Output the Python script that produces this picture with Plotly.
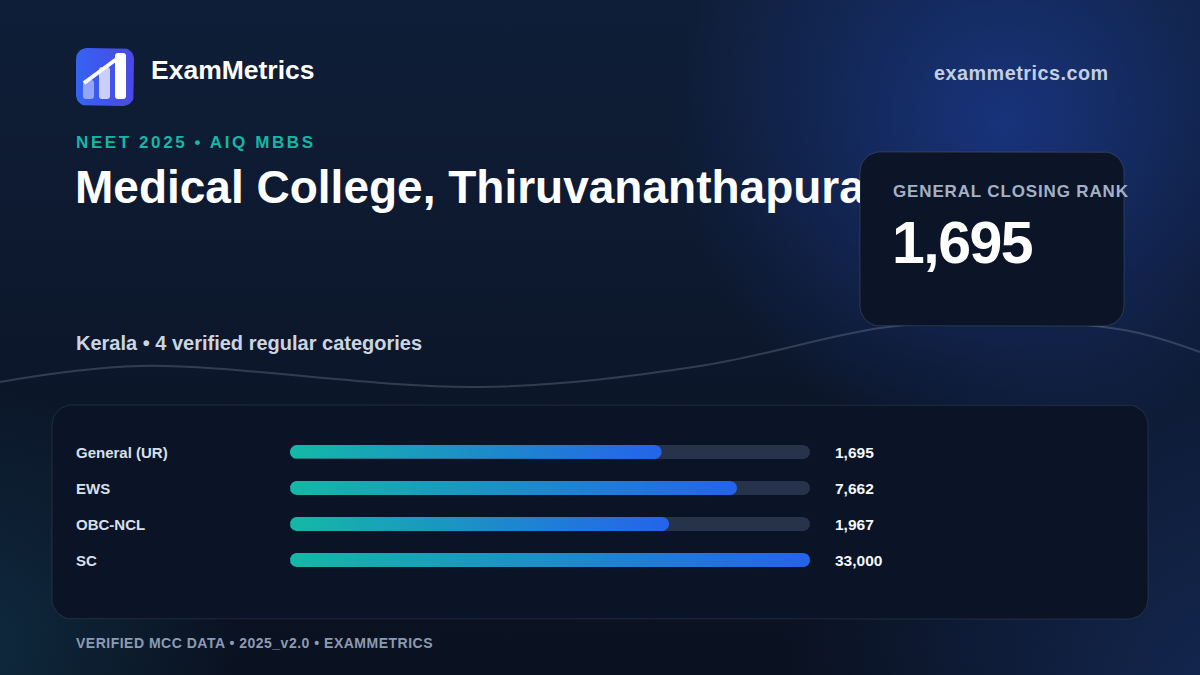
import numpy as np
import plotly.graph_objects as go

# ---------------- data ----------------
categories = ["General (UR)", "EWS", "OBC-NCL", "SC"]
closing_ranks = [1695, 7662, 1967, 33000]
value_labels = ["1,695", "7,662", "1,967", "33,000"]

brand = "ExamMetrics"
site = "exammetrics.com"
kicker = "NEET 2025 • AIQ MBBS"
college = "Medical College, Thiruvananthapuram"
subtitle = "Kerala • 4 verified regular categories"
stat_label = "GENERAL CLOSING RANK"
stat_value = "1,695"
footer = "VERIFIED MCC DATA • 2025_v2.0 • EXAMMETRICS"

W, H = 1200, 675
FONT = "Liberation Sans, Arial, Helvetica, sans-serif"


def rrect(x0, y0, x1, y1, r, n=10):
    xs, ys = [], []
    corners = [(x0 + r, y0 + r, 180, 270), (x1 - r, y0 + r, 270, 360),
               (x1 - r, y1 - r, 0, 90), (x0 + r, y1 - r, 90, 180)]
    for cx, cy, a0, a1 in corners:
        t = np.radians(np.linspace(a0, a1, n))
        xs += list(cx + r * np.cos(t))
        ys += list(cy + r * np.sin(t))
    xs.append(xs[0]); ys.append(ys[0])
    return xs, ys


def circle(cx, cy, r, n=90):
    t = np.linspace(0, 2 * np.pi, n)
    return list(cx + r * np.cos(t)), list(cy + r * np.sin(t))


def rpath(x0, y0, x1, y1, r):
    return (f"M{x0+r},{y0} L{x1-r},{y0} Q{x1},{y0} {x1},{y0+r} L{x1},{y1-r} "
            f"Q{x1},{y1} {x1-r},{y1} L{x0+r},{y1} Q{x0},{y1} {x0},{y1-r} "
            f"L{x0},{y0+r} Q{x0},{y0} {x0+r},{y0} Z")


fig = go.Figure()

# ---------------- background (pixel axes x/y) ----------------
fig.add_trace(go.Scatter(x=[0, W, W, 0, 0], y=[0, 0, H, H, 0], mode="lines",
                         fill="toself", line=dict(width=0),
                         fillgradient=dict(type="vertical",
                                           colorscale=[[0, "#0a1120"], [1, "#0f1e38"]]),
                         hoverinfo="skip", showlegend=False))

glows = [
    (1005, 125, 330, "rgba(32,70,180,0.56)"),
    (1240, 720, 460, "rgba(26,56,118,0.6)"),
    (-20, 650, 260, "rgba(22,88,118,0.34)"),
]
for cx, cy, r, col in glows:
    gx, gy = circle(cx, cy, r)
    fig.add_trace(go.Scatter(x=gx, y=gy, mode="lines", fill="toself", line=dict(width=0),
                             fillgradient=dict(type="radial",
                                               colorscale=[[0, col], [1, col.rsplit(",", 1)[0] + ",0)"]]),
                             hoverinfo="skip", showlegend=False))

# decorative wave
fig.add_trace(go.Scatter(x=[0, 140, 480, 700, 880, 980, 1124, 1200],
                         y=[382, 366, 387, 366, 328, 321, 330, 352],
                         mode="lines", line=dict(color="rgba(148,163,184,0.28)", width=2, shape="spline"),
                         hoverinfo="skip", showlegend=False))

# title as text trace (so the stat card can overlap it)
fig.add_trace(go.Scatter(x=[75], y=[191], mode="text", text=[college], textposition="middle right",
                         textfont=dict(family=FONT, size=46, color="#ffffff", weight="bold"),
                         hoverinfo="skip", showlegend=False))

# stat card
cx_, cy_ = rrect(860, 152, 1124, 326, 20)
fig.add_trace(go.Scatter(x=cx_, y=cy_, mode="lines", fill="toself", fillcolor="#0c1527",
                         line=dict(color="rgba(148,163,184,0.22)", width=1),
                         hoverinfo="skip", showlegend=False))

# bars card
bx_, by_ = rrect(52, 405, 1148, 619, 20)
fig.add_trace(go.Scatter(x=bx_, y=by_, mode="lines", fill="toself", fillcolor="#0b1426",
                         line=dict(color="rgba(148,163,184,0.16)", width=1),
                         hoverinfo="skip", showlegend=False))

# logo square
lx, ly = rrect(76, 48, 134, 106, 11)
fig.add_trace(go.Scatter(x=lx, y=ly, mode="lines", fill="toself", line=dict(width=0),
                         fillgradient=dict(type="horizontal",
                                           colorscale=[[0, "#3563f1"], [1, "#4b48e6"]]),
                         hoverinfo="skip", showlegend=False))

# ---------------- bars (log-scaled axes x2/y2) ----------------
vmax = max(closing_ranks)
L = np.log10(vmax)
track_px = 520.0
row_px = 36.0
r_px = 7.0
ru = r_px * L / track_px
ry = r_px / row_px


def pill(u_end, yc, n=24):
    t_r = np.radians(np.linspace(-90, 90, n))
    t_l = np.radians(np.linspace(90, 270, n))
    us = list(u_end - ru + ru * np.cos(t_r)) + list(ru + ru * np.cos(t_l))
    ys = list(yc + ry * np.sin(t_r)) + list(yc + ry * np.sin(t_l))
    us.append(us[0]); ys.append(ys[0])
    return [10 ** u for u in us], ys


for i, v in enumerate(closing_ranks):
    tx, ty = pill(L, i)
    fig.add_trace(go.Scatter(x=tx, y=ty, xaxis="x2", yaxis="y2", mode="lines", fill="toself",
                             fillcolor="#27334a", line=dict(width=0),
                             hoverinfo="skip", showlegend=False))
for i, v in enumerate(closing_ranks):
    px_, py_ = pill(np.log10(v), i)
    fig.add_trace(go.Scatter(x=px_, y=py_, xaxis="x2", yaxis="y2", mode="lines", fill="toself",
                             line=dict(width=0),
                             fillgradient=dict(type="horizontal",
                                               colorscale=[[0, "#14b8a6"], [1, "#2563eb"]]),
                             hoverinfo="skip", showlegend=False))

# ---------------- text ----------------
ann = []


def txt(x, y, s, size, color, xanchor="left", yref="y", weight="bold", spacing=None):
    if spacing is not None:
        s = f'<span style="letter-spacing:{spacing}px">{s}</span>'
    ann.append(dict(x=x - 2 if xanchor == "left" else x + 2, y=y, xref="x", yref=yref, text=s,
                    showarrow=False, xanchor=xanchor, yanchor="middle",
                    font=dict(family=FONT, size=size, color=color, weight=weight)))


txt(151, 70, brand, 26.5, "#ffffff")
txt(1109, 73, site, 19.8, "#c3cee0", xanchor="right", spacing=0.5)
txt(76, 142, kicker, 17, "#14b8a6", spacing=2.6)
txt(76, 343, subtitle, 20, "#cbd5e1")
txt(893, 191, stat_label, 17, "#a3b1c6", spacing=0.85)
txt(892, 243, stat_value, 59, "#ffffff", spacing=-1.5)
txt(76, 643, footer, 14, "#8c9bb3", spacing=0.5)

for i, (c, lab) in enumerate(zip(categories, value_labels)):
    txt(76, i, c, 15, "#d9e0ea", yref="y2")
    txt(835, i, lab, 15.5, "#f5f7fb", yref="y2")

# logo glyph
shapes = [
    dict(type="path", path=rpath(83, 80, 94, 99, 3), xref="x", yref="y",
         fillcolor="rgba(255,255,255,0.45)", line=dict(width=0), layer="above"),
    dict(type="path", path=rpath(99, 67, 110, 99, 3), xref="x", yref="y",
         fillcolor="rgba(255,255,255,0.72)", line=dict(width=0), layer="above"),
    dict(type="path", path=rpath(115, 53, 126, 99, 3), xref="x", yref="y",
         fillcolor="#ffffff", line=dict(width=0), layer="above"),
    dict(type="line", x0=84, y0=83, x1=118, y1=58, xref="x", yref="y",
         line=dict(color="#ffffff", width=4), layer="above"),
]

fig.update_layout(
    width=W, height=H, margin=dict(l=0, r=0, t=0, b=0),
    paper_bgcolor="#0a1120", plot_bgcolor="rgba(0,0,0,0)",
    showlegend=False, hovermode=False,
    xaxis=dict(range=[0, W], domain=[0, 1], visible=False, fixedrange=True),
    yaxis=dict(range=[H, 0], domain=[0, 1], visible=False, fixedrange=True),
    xaxis2=dict(type="log", range=[0, L], domain=[290 / W, 810 / W], anchor="y2",
                visible=False, fixedrange=True),
    yaxis2=dict(range=[3.5, -0.5], domain=[1 - 578 / H, 1 - 434 / H], anchor="x2",
                visible=False, fixedrange=True),
    annotations=ann, shapes=shapes,
)

fig.write_html("out.html", config={"displayModeBar": False})
